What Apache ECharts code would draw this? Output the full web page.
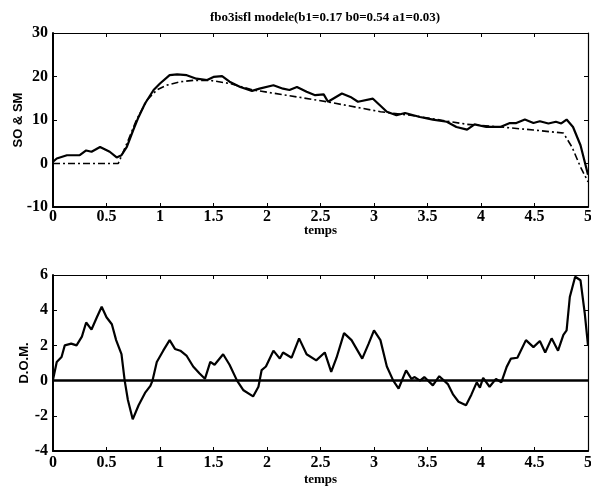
<!DOCTYPE html>
<html>
<head>
<meta charset="utf-8">
<script src="https://cdn.jsdelivr.net/npm/echarts@6/dist/echarts.min.js"></script>
<style>
html,body{margin:0;padding:0;background:#fff;}
#chart{width:591px;height:491px;}
</style>
</head>
<body>
<div id="chart"></div>
<script>
// ---- data ----
var titleText = 'fbo3isfl modele(b1=0.17 b0=0.54 a1=0.03)';
var xName = 'temps';
var topYName = 'SO & SM';
var botYName = 'D.O.M.';

// SO (solid) : time, value
var soT = [0,0.035,0.13,0.25,0.31,0.36,0.44,0.53,0.595,0.64,0.69,0.75,0.80,0.86,0.94,1.0,1.09,1.16,1.25,1.34,1.44,1.50,1.58,1.65,1.75,1.86,1.93,2.06,2.15,2.21,2.28,2.37,2.45,2.53,2.57,2.70,2.78,2.85,2.99,3.12,3.21,3.29,3.43,3.55,3.68,3.77,3.87,3.94,4.05,4.18,4.27,4.33,4.41,4.49,4.55,4.63,4.70,4.75,4.80,4.86,4.93,5.0];
var soV = [0.4,1.15,1.9,1.9,3.0,2.7,3.8,2.7,1.4,1.9,3.8,7.7,10.7,13.8,16.9,18.4,20.3,20.5,20.3,19.5,19.2,19.9,20.1,18.8,17.6,16.7,17.2,18.0,17.2,16.9,17.6,16.5,15.7,15.9,14.2,16.1,15.3,14.2,14.9,11.9,11.1,11.6,10.7,10.1,9.6,8.4,7.8,9.0,8.4,8.4,9.3,9.3,10.1,9.3,9.7,9.2,9.6,9.2,10.1,8.4,4.2,-2.6];

// SM (dash-dot model)
var smT = [0,0.61,0.69,0.78,0.88,0.97,1.06,1.19,1.31,1.47,1.65,1.87,2.18,2.56,3.06,3.34,3.62,3.87,4.18,4.49,4.77,4.85,4.93,5.0];
var smV = [0,0,4.6,10,14.6,16.9,18,18.8,19.1,19.1,18.4,16.9,15.7,14.2,11.9,11.1,10,9.0,8.4,7.7,7.0,3.8,-0.8,-4.2];

// D.O.M.
var dT = [0,0.035,0.08,0.11,0.17,0.22,0.27,0.31,0.36,0.41,0.455,0.50,0.55,0.59,0.64,0.67,0.70,0.745,0.80,0.86,0.91,0.93,0.97,1.03,1.09,1.14,1.19,1.25,1.31,1.37,1.42,1.47,1.51,1.59,1.65,1.72,1.78,1.87,1.92,1.95,1.99,2.06,2.12,2.15,2.23,2.30,2.37,2.46,2.54,2.60,2.65,2.72,2.79,2.89,2.95,3.00,3.06,3.12,3.18,3.23,3.30,3.35,3.38,3.43,3.47,3.55,3.61,3.69,3.74,3.79,3.86,3.91,3.96,3.99,4.02,4.08,4.14,4.19,4.24,4.28,4.34,4.42,4.49,4.55,4.60,4.66,4.72,4.77,4.80,4.83,4.88,4.93,4.97,5.0];
var dV = [0.05,1.06,1.34,2.0,2.1,2.0,2.5,3.3,2.9,3.6,4.2,3.6,3.2,2.3,1.5,0,-1.1,-2.2,-1.4,-0.7,-0.3,0,1.06,1.7,2.3,1.8,1.7,1.4,0.8,0.4,0.1,1.06,0.9,1.5,0.9,0,-0.55,-0.9,-0.35,0.6,0.8,1.7,1.25,1.6,1.3,2.4,1.5,1.15,1.6,0.5,1.3,2.7,2.3,1.25,2.1,2.85,2.3,0.8,0,-0.45,0.58,0.1,0.2,0,0.2,-0.27,0.25,-0.2,-0.8,-1.2,-1.4,-0.8,-0.1,-0.4,0.15,-0.35,0.1,-0.1,0.78,1.25,1.3,2.3,1.9,2.25,1.6,2.4,1.7,2.6,2.85,4.75,5.9,5.7,3.8,2.0];

// axes ranges / ticks
var xMin = 0, xMax = 5, xStep = 0.5;
var topMin = -10, topMax = 30, topStep = 10;
var botMin = -4, botMax = 6, botStep = 2;
var zeroLine = 0;

function pairs(t, v){ return t.map(function(x,i){ return [x, v[i]]; }); }

var serif = 'Liberation Serif';
var sans = 'Liberation Sans';
var tickFont = {fontFamily: serif, fontWeight: 'bold', fontSize: 16, color: '#000'};

function mainX(grid, gap, margin){
  return {
    type:'value', gridIndex:grid, min:xMin, max:xMax, interval:xStep, position:'bottom',
    name:xName, nameLocation:'middle', nameGap:gap, nameMoveOverlap:false,
    nameTextStyle:{fontFamily:serif, fontWeight:'bold', fontSize:13, color:'#000'},
    axisLine:{show:true, onZero:false, lineStyle:{color:'#000', width:2}},
    axisTick:{show:true, inside:true, length:4, lineStyle:{color:'#000', width:1}},
    axisLabel:Object.assign({margin:margin, hideOverlap:false, showMinLabel:true, showMaxLabel:true}, tickFont),
    splitLine:{show:false}
  };
}
function boxX(grid){
  return {
    type:'value', gridIndex:grid, min:xMin, max:xMax, interval:xStep, position:'top',
    axisLine:{show:true, onZero:false, lineStyle:{color:'#000', width:1.2}},
    axisTick:{show:true, inside:true, length:4, lineStyle:{color:'#000', width:1}},
    axisLabel:{show:false}, splitLine:{show:false}
  };
}
function mainY(grid, mn, mx, st, name, gap){
  return {
    type:'value', gridIndex:grid, min:mn, max:mx, interval:st, position:'left',
    name:name, nameLocation:'middle', nameGap:gap, nameRotate:90, nameMoveOverlap:false,
    nameTextStyle:{fontFamily:sans, fontWeight:'bold', fontSize:13, color:'#000'},
    axisLine:{show:true, onZero:false, lineStyle:{color:'#000', width:2}},
    axisTick:{show:true, inside:true, length:4, lineStyle:{color:'#000', width:1}},
    axisLabel:Object.assign({margin:5, showMinLabel:true, showMaxLabel:true}, tickFont),
    splitLine:{show:false}
  };
}
function boxY(grid, mn, mx, st){
  return {
    type:'value', gridIndex:grid, min:mn, max:mx, interval:st, position:'right',
    axisLine:{show:true, onZero:false, lineStyle:{color:'#000', width:1.2}},
    axisTick:{show:true, inside:true, length:4, lineStyle:{color:'#000', width:1}},
    axisLabel:{show:false}, splitLine:{show:false}
  };
}

var chart = echarts.init(document.getElementById('chart'), null, {renderer:'canvas'});
chart.setOption({
  animation:false,
  backgroundColor:'#fff',
  title:{
    text:titleText, left:320, top:6, textAlign:'center',
    textStyle:{fontFamily:serif, fontWeight:'bold', fontSize:13, color:'#000'}
  },
  grid:[
    {left:53, top:33, width:535, height:174, containLabel:false, outerBoundsMode:'none'},
    {left:53, top:275, width:535, height:176, containLabel:false, outerBoundsMode:'none'}
  ],
  xAxis:[ mainX(0, 17, 2), boxX(0), mainX(1, 22, 4), boxX(1) ],
  yAxis:[ mainY(0, topMin, topMax, topStep, topYName, 28), boxY(0, topMin, topMax, topStep),
          mainY(1, botMin, botMax, botStep, botYName, 22), boxY(1, botMin, botMax, botStep) ],
  series:[
    {type:'line', name:'SO', xAxisIndex:0, yAxisIndex:0, data:pairs(soT, soV),
     showSymbol:false, symbol:'none', lineStyle:{color:'#000', width:2.2}},
    {type:'line', name:'SM', xAxisIndex:0, yAxisIndex:0, data:pairs(smT, smV),
     showSymbol:false, symbol:'none', lineStyle:{color:'#000', width:1.6, type:[7,3,2,3]}},
    {type:'line', name:'DOM', xAxisIndex:2, yAxisIndex:2, data:pairs(dT, dV),
     showSymbol:false, symbol:'none', lineStyle:{color:'#000', width:2.2},
     markLine:{silent:true, symbol:'none', label:{show:false},
       lineStyle:{color:'#000', width:2.5, type:'solid'},
       data:[{yAxis:zeroLine}]}}
  ]
});
</script>
</body>
</html>
